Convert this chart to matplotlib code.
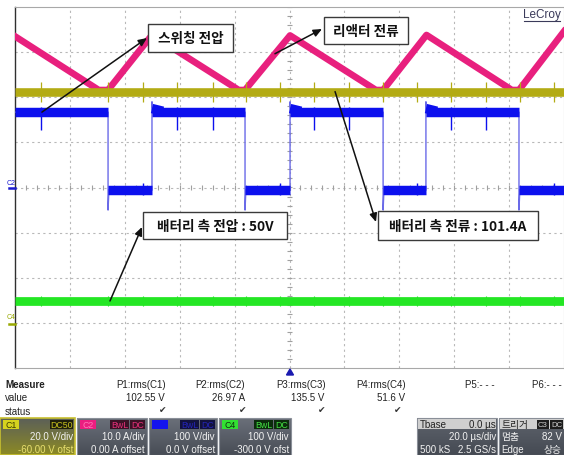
import numpy as np
import matplotlib
matplotlib.use('Agg')
import matplotlib.pyplot as plt
from matplotlib.patches import Rectangle, Polygon
from matplotlib.colors import to_rgb

plt.rcParams['font.family'] = ['Liberation Sans', 'Noto Sans CJK KR', 'DejaVu Sans']

# ---------------- data ----------------
time_per_div_us = 20
# C1 (yellow) 20 V/div, -60 V offset
c1_scale, c1_offset = 20.0, -60.0
c1_level_v = 102.5
spike_t_us = [9.5, 34, 46.5, 59, 72, 84, 96.5, 109, 121.5, 134, 146.5, 159, 171.5, 184, 196.5]
# C2 (pink) reactor current, 10 A/div
c2_scale = 10.0
pink_t_us = [0, 30.5, 33.9, 49.9, 81.5, 83.8, 100.2, 131.5, 134.1, 149.9, 181.0, 183.6, 200]
pink_a = [33.5, 21.6, 21.6, 33.8, 21.6, 21.6, 33.7, 21.6, 21.6, 33.8, 21.6, 21.6, 34.6]
# C3 (blue) switching voltage, 100 V/div
c3_scale = 100.0
blue_fall_us = [33.9, 83.8, 134.1, 183.6]
blue_rise_us = [49.9, 100.2, 149.7]
blue_high_v, blue_low_v = 167.0, -6.0
blue_undershoot_v, blue_overshoot_v = -50.0, 190.0
# C4 (green) battery voltage, 100 V/div, -300 V offset
c4_scale, c4_offset = 100.0, -300.0
c4_level_v = 48.5

measure_names = ["P1:rms(C1)", "P2:rms(C2)", "P3:rms(C3)", "P4:rms(C4)", "P5:- - -", "P6:- - -"]
measure_values = ["102.55 V", "26.97 A", "135.5 V", "51.6 V"]

# ---------------- figure ----------------
W, H = 564, 456
fig = plt.figure(figsize=(W / 100, H / 100), dpi=100)
fig.patch.set_facecolor('white')

L, R, T, B = 15, 564, 8, 369
ax = fig.add_axes([L / W, 1 - B / H, (R - L) / W, (B - T) / H])
ax.set_xlim(0, 10 * time_per_div_us)
ax.set_ylim(-4, 4)
ax.set_xticks([]); ax.set_yticks([])
for s in ['top', 'right', 'bottom']:
    ax.spines[s].set_color('#a8a8a8'); ax.spines[s].set_linewidth(0.8)
ax.spines['left'].set_color('#303030'); ax.spines['left'].set_linewidth(1.0)

grid_kw = dict(color='#b8b8b8', lw=0.8, ls=(0, (2, 3)), zorder=1)
for i in range(1, 10):
    ax.axvline(i * time_per_div_us, **grid_kw)
for j in range(-3, 4):
    ax.axhline(j, **grid_kw)
# centre-line minor ticks
tt = np.arange(0, 200.01, time_per_div_us / 5)
ax.vlines(tt, -0.05, 0.05, color='#a0a0a0', lw=0.8, zorder=1)
yy = np.arange(-4, 4.01, 0.2)
ax.hlines(yy, 100 - 0.8, 100 + 0.8, color='#a0a0a0', lw=0.8, zorder=1)

# colours
YEL, PINK, BLUE, BLUE_THIN, GREEN = '#b3ab14', '#e8207e', '#0c10ee', '#6a6ae8', '#24e624'

# pink: reactor current
pink_div = np.array(pink_a) / c2_scale
ax.plot(pink_t_us, pink_div, color=PINK, lw=4.8, solid_joinstyle='round', zorder=3)

# yellow
y_yel = (c1_level_v + c1_offset) / c1_scale
ax.plot([0, 200], [y_yel, y_yel], color=YEL, lw=6.2, solid_capstyle='butt', zorder=4)
ax.vlines(spike_t_us, y_yel - 0.22, y_yel + 0.22, color=YEL, lw=0.9, zorder=4)

# blue: switching voltage
hi, lo = blue_high_v / c3_scale, blue_low_v / c3_scale
us, os_ = blue_undershoot_v / c3_scale, blue_overshoot_v / c3_scale
bt, bv = [0], [hi]
for k, f in enumerate(blue_fall_us):
    bt += [f, f, f + 0.3]; bv += [hi, us, lo]
    if k < len(blue_rise_us):
        r = blue_rise_us[k]
        bt += [r, r, r + 0.3]; bv += [lo, os_, hi]
bt.append(200); bv.append(lo)
ax.plot(bt, bv, color=BLUE_THIN, lw=1.0, zorder=5)
starts = [0] + blue_rise_us
ends = blue_fall_us
for a, b in zip(starts, ends):
    ax.plot([a, b], [hi, hi], color=BLUE, lw=6.8, solid_capstyle='butt', zorder=6)
    if a > 0:
        ax.plot([a, a + 4], [hi + 0.08, hi + 0.02], color=BLUE, lw=6.8, solid_capstyle='butt', zorder=6)
lows_end = blue_rise_us + [200]
for a, b in zip(blue_fall_us, lows_end):
    ax.plot([a, b], [lo, lo], color=BLUE, lw=6.8, solid_capstyle='butt', zorder=6)
# ringing spikes on the levels
for s in spike_t_us:
    on_high = any(a + 2 < s < b - 2 for a, b in zip(starts, ends))
    on_low = any(a + 2 < s < b - 2 for a, b in zip(blue_fall_us, lows_end))
    if on_high:
        ax.vlines(s, hi - 0.4, hi + 0.12, color=BLUE, lw=1.0, zorder=6)
    elif on_low:
        ax.vlines(s, lo - 0.1, lo + 0.15, color=BLUE, lw=1.0, zorder=6)

# green
y_grn = (c4_level_v + c4_offset) / c4_scale
ax.plot([0, 200], [y_grn, y_grn], color=GREEN, lw=6.3, solid_capstyle='butt', zorder=4)
ax.vlines(spike_t_us, y_grn - 0.12, y_grn + 0.12, color=GREEN, lw=0.8, zorder=4)

# ---------------- overlay in pixel coordinates ----------------
ov = fig.add_axes([0, 0, 1, 1], zorder=10)
ov.set_xlim(0, W); ov.set_ylim(H, 0)
ov.axis('off')
ov.patch.set_alpha(0)
ov.set_autoscale_on(False)

KR = ['Noto Sans CJK KR', 'DejaVu Sans']

# LeCroy logo
ov.text(542, 15, 'LeCroy', ha='center', va='center', fontsize=8.5, color='#3a3a5a')
ov.plot([524, 560], [21.5, 21.5], color='#3a3a5a', lw=0.8)

# left channel markers
ov.text(11, 184, 'C2', ha='center', va='center', fontsize=5, color='#1a1ad0', rotation=0)
ov.plot([9, 15], [189, 189], color='#1a1ad0', lw=1.8)
ov.text(11, 318, 'C4', ha='center', va='center', fontsize=5, color='#98a800', rotation=0)
ov.plot([9, 15], [325, 325], color='#98a800', lw=1.8)
# trigger position marker
ov.add_patch(Polygon([[286.5, 376], [293.5, 376], [290, 370]], closed=True, color='#1a1ab0'))

# annotations
annots = [
    ('스위칭 전압', (148, 25, 233, 53), (9.8, hi), (147, 39)),
    ('리액터 전류', (324, 18, 408, 45), (94.7, float(np.interp(94.7, pink_t_us, pink_div))), (322, 30)),
    ('배터리 측 전압 : 50V', (143, 213, 287, 240), (34.6, y_grn), (142, 228)),
    ('배터리 측 전류 : 101.4A', (378, 212, 538, 241), (116.6, y_yel), (376, 223)),
]
for txt, (l, t, r, b), tail, head in annots:
    ov.add_patch(Rectangle((l, t), r - l, b - t, facecolor='white', edgecolor='#3a3a3a', lw=1.0, zorder=5))
    ov.text((l + r) / 2, (t + b) / 2 + 0.5, txt, ha='center', va='center', fontsize=9.8,
            fontweight='bold', family=KR, color='#111111', zorder=6)
    ax.annotate('', xy=(head[0], H - head[1]), xycoords='figure pixels',
                xytext=tail, textcoords='data', annotation_clip=False,
                arrowprops=dict(arrowstyle='-|>,head_length=0.5,head_width=0.22', color='#111111',
                                lw=1.1, shrinkA=0, shrinkB=0), zorder=8)

# measure table
TXT = '#222222'
fs = 7.0
ov.text(5, 385, 'Measure', ha='left', va='center', fontsize=fs, fontweight='bold', color=TXT)
ov.text(5, 398, 'value', ha='left', va='center', fontsize=fs, color=TXT)
ov.text(5, 412, 'status', ha='left', va='center', fontsize=fs, color=TXT)
head_right = [166, 245, 326, 406, 495]
for i, name in enumerate(measure_names):
    if i < 5:
        ov.text(head_right[i], 385, name, ha='right', va='center', fontsize=fs, color=TXT)
    else:
        ov.text(562, 385, name, ha='right', va='center', fontsize=fs, color=TXT)
val_right = [165, 245, 324, 405]
check_x = [163, 243, 322, 398]
for i, v in enumerate(measure_values):
    ov.text(val_right[i], 398, v, ha='right', va='center', fontsize=fs, color=TXT)
    ov.text(check_x[i], 411, '\u2714', ha='center', va='center', fontsize=6.5, color='#333333',
            family=['DejaVu Sans'])


def grad_box(l, r, t, b, c_top, c_bot, edge='#8a8f98', lw=0.8):
    n = 40
    ct, cb = np.array(to_rgb(c_top)), np.array(to_rgb(c_bot))
    g = np.linspace(0, 1, n)[:, None, None]
    img = ct[None, None, :] * (1 - g) + cb[None, None, :] * g
    ov.imshow(img, extent=(l, r, b, t), origin='upper', aspect='auto', zorder=2, interpolation='bilinear')
    ov.add_patch(Rectangle((l, t), r - l, b - t, fill=False, edgecolor=edge, lw=lw, zorder=3))


def tag(l, r, t, b, fc, text, tc, fsz=6.3):
    ov.add_patch(Rectangle((l, t), r - l, b - t, facecolor=fc, edgecolor='none', zorder=4))
    if text:
        ov.text((l + r) / 2, (t + b) / 2 + 0.3, text, ha='center', va='center', fontsize=fsz, color=tc, zorder=5)


BT, BB = 419, 456
chan = [
    (0, 75, '#d6d21e', 'C1', '#3a3a00', ['DC50'], '#1e1e0c', '#c8c21e', '20.0 V/div', '-60.00 V ofst',
     '#c8c030', '#5c6058', '#8c8a24', '#e8e070'),
    (77, 147, '#ea1e80', 'C2', '#ff7ab8', ['BwL', 'DC'], '#3c1226', '#e8307a', '10.0 A/div', '0.00 A offset',
     '#8a8f98', '#6a6f79', '#484d56', '#f2f2f2'),
    (149, 217, '#1414ee', '', '#1414ee', ['BwL', 'DC'], '#12123e', '#2424b8', '100 V/div', '0.0 V offset',
     '#8a8f98', '#6a6f79', '#484d56', '#f2f2f2'),
    (219, 291, '#32e032', 'C4', '#103010', ['BwL', 'DC'], '#0c2c0c', '#44e044', '100 V/div', '-300.0 V ofst',
     '#8a8f98', '#6a6f79', '#484d56', '#f2f2f2'),
]
for (l, r, tc_, tt_, ttc, flags, fbg, ffg, l2, l3, edge, ctop, cbot, l3c) in chan:
    grad_box(l, r, BT, BB, ctop, cbot, edge=edge, lw=1.2 if l == 0 else 0.8)
    tag(l + 3, l + 19, BT + 2, BT + 11, tc_, tt_, ttc)
    if len(flags) == 1:
        tag(r - 25, r - 2, BT + 2, BT + 11, fbg, flags[0], ffg)
    else:
        tag(r - 37, r - 18, BT + 2, BT + 11, fbg, flags[0], ffg)
        tag(r - 17, r - 2, BT + 2, BT + 11, fbg, flags[1], ffg)
    ov.text(r - 2, 437, l2, ha='right', va='center', fontsize=fs, color='#f2f2f2', zorder=5)
    ov.text(r - 2, 450, l3, ha='right', va='center', fontsize=fs, color=l3c, zorder=5)

# timebase box
grad_box(417, 497, BT, BB, '#5e636c', '#454a53')
ov.add_patch(Rectangle((418, BT + 1), 78, 10, facecolor='#cfcfcf', edgecolor='none', zorder=4))
ov.text(420, BT + 6, 'Tbase', ha='left', va='center', fontsize=fs, color='#222222', zorder=5)
ov.text(496, BT + 6, '0.0 \u00b5s', ha='right', va='center', fontsize=fs, color='#222222', zorder=5)
ov.text(496, 437, '20.0 \u00b5s/div', ha='right', va='center', fontsize=fs, color='#f2f2f2', zorder=5)
ov.text(420, 450, '500 kS', ha='left', va='center', fontsize=fs, color='#f2f2f2', zorder=5)
ov.text(496, 450, '2.5 GS/s', ha='right', va='center', fontsize=fs, color='#f2f2f2', zorder=5)

# trigger box
grad_box(499, 566, BT, BB, '#5e636c', '#454a53')
ov.add_patch(Rectangle((500, BT + 1), 64, 10, facecolor='#cfcfcf', edgecolor='none', zorder=4))
ov.text(501, BT + 6, '트리거', ha='left', va='center', fontsize=fs, family=KR, color='#222222', zorder=5)
tag(537, 549, BT + 2, BT + 11, '#1c1c1c', 'C3', '#d0d0d0', 5.6)
tag(550, 563, BT + 2, BT + 11, '#1c1c1c', 'DC', '#d0d0d0', 5.6)
ov.text(501, 437, '멈춤', ha='left', va='center', fontsize=fs, family=KR, color='#f2f2f2', zorder=5)
ov.text(562, 437, '82 V', ha='right', va='center', fontsize=fs, color='#f2f2f2', zorder=5)
ov.text(501, 450, 'Edge', ha='left', va='center', fontsize=fs, color='#f2f2f2', zorder=5)
ov.text(562, 450, '상승', ha='right', va='center', fontsize=fs, family=KR, color='#f2f2f2', zorder=5)

fig.savefig('out.png', dpi=100, facecolor='white')
